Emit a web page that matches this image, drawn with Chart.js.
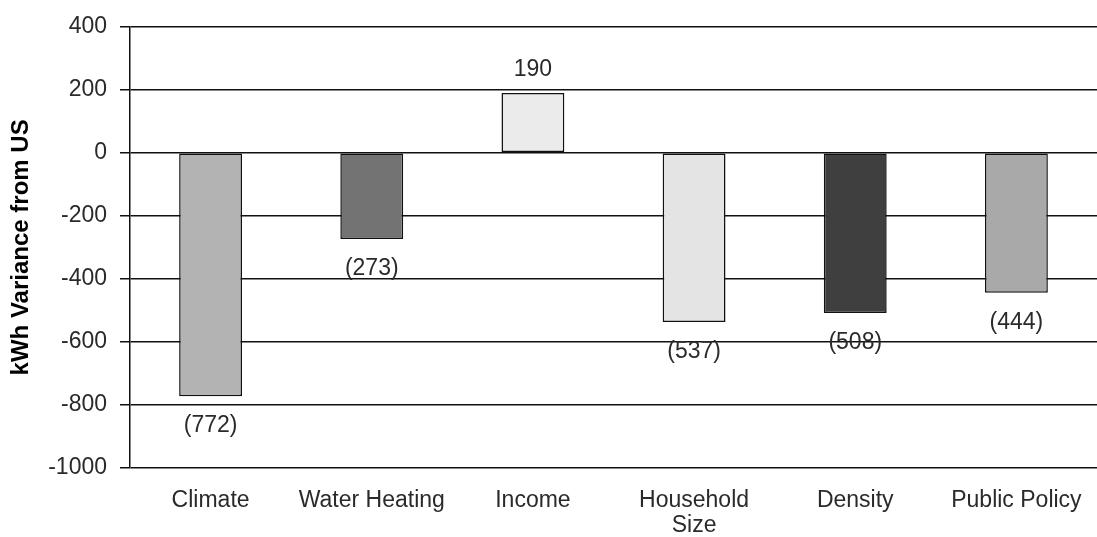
<!DOCTYPE html>
<html>
<head>
<meta charset="utf-8">
<script src="https://cdn.jsdelivr.net/npm/chart.js@4.4.1/dist/chart.umd.min.js"></script>
<style>
  html, body { margin: 0; padding: 0; background: #fff; }
  #wrap { width: 1097px; height: 537px; position: relative; }
</style>
</head>
<body>
<div id="wrap"><canvas id="varianceChart"></canvas></div>
<script>
const categories = ['Climate', 'Water Heating', 'Income', ['Household', 'Size'], 'Density', 'Public Policy'];
const variance = [-772, -273, 190, -537, -508, -444];
const barColors = ['#b3b3b3', '#737373', '#ebebeb', '#e4e4e4', '#3f3f3f', '#a9a9a9'];

const FONT = '"Liberation Sans", Arial, sans-serif';

// value labels: negatives in brackets under the bar, positives above
const valueLabels = {
    id: 'valueLabels',
    afterDatasetsDraw(chart) {
        const ctx = chart.ctx;
        const meta = chart.getDatasetMeta(0);
        ctx.save();
        ctx.font = '23px ' + FONT;
        ctx.fillStyle = '#2a2a2a';
        ctx.textAlign = 'center';
        ctx.textBaseline = 'middle';
        meta.data.forEach((bar, i) => {
            const v = variance[i];
            const txt = v < 0 ? '(' + (-v) + ')' : String(v);
            const y = v < 0 ? bar.y + 30 : bar.y - 23;
            ctx.fillText(txt, bar.x, y);
        });
        ctx.restore();
    }
};

const ctx = document.getElementById('varianceChart').getContext('2d');
new Chart(ctx, {
    type: 'bar',
    data: {
        labels: categories,
        datasets: [{
            data: variance,
            backgroundColor: barColors,
            borderColor: '#111',
            borderWidth: 1.5,
            borderSkipped: false,
            barPercentage: 0.39,
            categoryPercentage: 1
        }]
    },
    options: {
        responsive: true,
        maintainAspectRatio: false,
        animation: false,
        layout: { padding: { left: 3, top: 11, right: 0, bottom: 0 } },
        plugins: {
            legend: { display: false },
            tooltip: { enabled: false }
        },
        scales: {
            x: {
                grid: { display: false },
                border: { display: false },
                ticks: {
                    font: { family: FONT, size: 23, lineHeight: 1.05 },
                    color: '#2a2a2a',
                    padding: 13,
                    maxRotation: 0,
                    autoSkip: false
                },
                afterFit(scale) { scale.height = 69; }
            },
            y: {
                min: -1000,
                max: 400,
                ticks: {
                    stepSize: 200,
                    font: { family: FONT, size: 23 },
                    color: '#2a2a2a',
                    padding: 13,
                    callback: v => String(v)
                },
                grid: { color: '#111', lineWidth: 1.5, tickLength: 10 },
                border: { display: true, color: '#111', width: 1.5 },
                title: {
                    display: true,
                    text: 'kWh Variance from US',
                    font: { family: FONT, size: 24, weight: 'bold' },
                    color: '#000',
                    padding: { top: 4, bottom: 0 }
                },
                afterFit(scale) { scale.width = 127; }
            }
        }
    },
    plugins: [valueLabels]
});
</script>
</body>
</html>
